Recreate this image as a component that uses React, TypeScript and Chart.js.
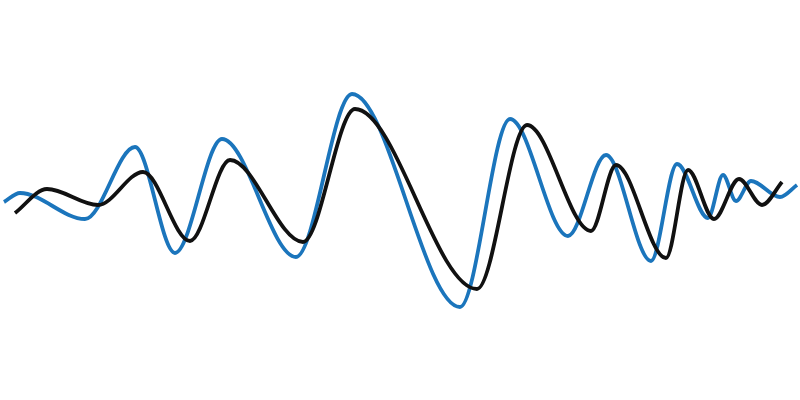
import React, { useEffect, useRef } from "react";
import { Chart, registerables } from "chart.js";

Chart.register(...registerables);

// Blue wave: x positions and values (height above baseline 400)
const blueX = [4, 20, 85, 135, 175, 222, 296, 352, 460, 510, 568, 606, 651, 677, 708, 723, 736, 751, 780, 797];
const blueY = [198, 207, 181, 253, 147, 261, 143, 306, 93, 281, 164, 245, 139, 236, 182, 225, 199, 219, 203, 215];

// Black wave
const blackX = [15, 47, 98, 143, 190, 230, 303, 355, 477, 527, 591, 616, 666, 688, 714, 739, 762, 782];
const blackY = [187, 211, 195, 228, 159, 240, 158, 291, 111, 275, 169, 235, 142, 230, 181, 221, 195, 218];

export default function App() {
  const ref = useRef<HTMLCanvasElement>(null);
  useEffect(() => {
    if (!ref.current) return;
    const chart = new Chart(ref.current, {
      type: "line",
      data: {
        datasets: [
          {
            label: "black",
            data: blackX.map((x, i) => ({ x, y: blackY[i] })),
            borderColor: "#111111",
            borderWidth: 3.8,
            pointRadius: 0,
            cubicInterpolationMode: "monotone",
            fill: false,
          },
          {
            label: "blue",
            data: blueX.map((x, i) => ({ x, y: blueY[i] })),
            borderColor: "#1b75bc",
            borderWidth: 3.8,
            pointRadius: 0,
            cubicInterpolationMode: "monotone",
            fill: false,
          },
        ],
      },
      options: {
        animation: false,
        responsive: false,
        maintainAspectRatio: false,
        layout: { padding: 0 },
        plugins: { legend: { display: false }, tooltip: { enabled: false } },
        scales: {
          x: { type: "linear", min: 0, max: 800, display: false },
          y: { type: "linear", min: 0, max: 400, display: false },
        },
      },
    });
    return () => chart.destroy();
  }, []);
  return (
    <div style={{ position: "fixed", left: 0, top: 0, width: 800, height: 400, background: "#fff" }}>
      <canvas ref={ref} width={800} height={400} style={{ width: 800, height: 400 }} />
    </div>
  );
}
